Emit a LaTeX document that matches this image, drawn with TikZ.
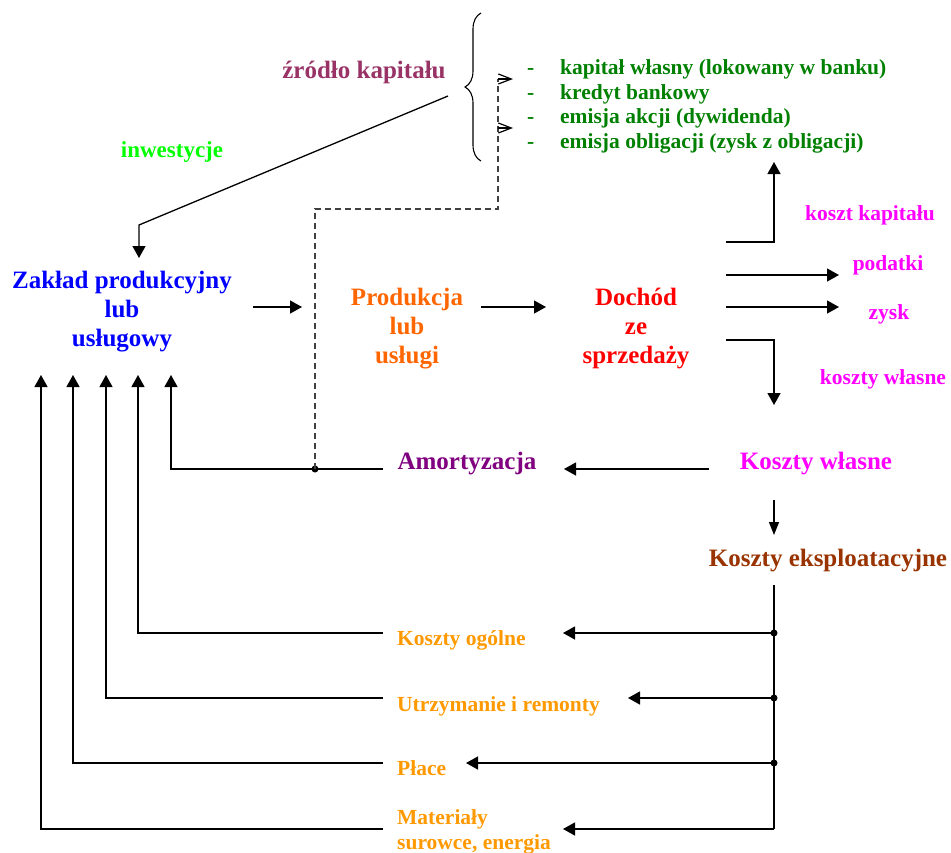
\documentclass[tikz,border=0pt]{standalone}
\usepackage{fontspec}
\setmainfont{Liberation Serif}
\usetikzlibrary{arrows.meta}
\usetikzlibrary{decorations.pathreplacing}
\definecolor{plum}{HTML}{993366}
\definecolor{darkgreen}{HTML}{008000}
\definecolor{brightgreen}{HTML}{00FF00}
\definecolor{prodorange}{HTML}{FF6600}
\definecolor{costorange}{HTML}{FF9900}
\definecolor{amortpurple}{HTML}{800080}
\definecolor{exploitbrown}{HTML}{993300}
\definecolor{costpink}{HTML}{FF00FF}
\definecolor{plantblue}{HTML}{0000FF}
\definecolor{incomered}{HTML}{FF0000}
\tikzstyle{bigtext}=[font=\fontsize{25}{29}\selectfont\bfseries, align=center, inner sep=0pt]
\tikzstyle{smalltext}=[font=\fontsize{21.5}{24.7}\selectfont\bfseries, inner sep=0pt]
\tikzstyle{flow}=[line width=1.3pt, -{Triangle[length=12pt,width=13pt]}]
\tikzstyle{plainline}=[line width=1.3pt]
\tikzstyle{funding}=[line width=1.2pt, gray!50!black, dash pattern=on 6pt off 4pt]
\tikzstyle{openflow}=[line width=1.2pt, -{Straight Barb[length=13pt,width=10pt]}]
\tikzstyle{joint}=[circle, fill, inner sep=0pt, minimum size=7pt]

\begin{document}
\begin{tikzpicture}[x=1pt, y=-1pt]
  \useasboundingbox (0,0) rectangle (951,852);
  % text blocks
  \node[bigtext, plum] (zrodlo) at (364,72) {źródło kapitału};
  \node[smalltext, darkgreen, align=left, anchor=west] (zrodla) at (527,106.5)
    {\makebox[33pt][l]{-}kapitał własny (lokowany w banku)\\
     \makebox[33pt][l]{-}kredyt bankowy\\
     \makebox[33pt][l]{-}emisja akcji (dywidenda)\\
     \makebox[33pt][l]{-}emisja obligacji (zysk z obligacji)};
  \node[smalltext, brightgreen, font=\fontsize{23}{26}\selectfont\bfseries] (inwest) at (172,152) {inwestycje};
  \node[bigtext, plantblue] (zaklad) at (122,312) {Zakład produkcyjny\\lub\\usługowy};
  \node[bigtext, prodorange] (produkcja) at (407,329) {Produkcja\\lub\\usługi};
  \node[bigtext, incomered] (dochod) at (636,329) {Dochód\\ze\\sprzedaży};
  \node[smalltext, costpink] (kkap) at (870,215) {koszt kapitału};
  \node[smalltext, costpink] (podatki) at (888,265) {podatki};
  \node[smalltext, costpink] (zysk) at (889,314) {zysk};
  \node[smalltext, costpink] (kwl) at (883,379) {koszty własne};
  \node[bigtext, amortpurple] (amort) at (467,464) {Amortyzacja};
  \node[bigtext, costpink] (kwlasne) at (816,464) {Koszty własne};
  \node[bigtext, exploitbrown] (keksp) at (828,561) {Koszty eksploatacyjne};
  \node[smalltext, costorange, anchor=west] (kogolne) at (397,640) {Koszty ogólne};
  \node[smalltext, costorange, anchor=west] (utrzym) at (397,706) {Utrzymanie i remonty};
  \node[smalltext, costorange, anchor=west] (place) at (397,768) {Płace};
  \node[smalltext, costorange, anchor=west, align=left] (mater) at (397,832) {Materiały\\surowce, energia};

  % brace of the capital sources
  \draw[line width=1.1pt, decorate, decoration={brace, amplitude=16pt}] (481,161) -- (481,13);

  % investment into the plant
  \coordinate (capfrom) at (448,96);
  \coordinate (capbend) at (139,225);
  \coordinate (captip) at (139,258);
  \draw[flow] (capfrom) -- (capbend) -- (captip);

  % main flow
  \coordinate (zp1) at (253,307); \coordinate (zp2) at (302,307);
  \coordinate (pd1) at (481,307); \coordinate (pd2) at (546,307);
  \draw[flow] (zp1) -- (zp2);
  \draw[flow] (pd1) -- (pd2);

  % distribution of the income
  \coordinate (kkap1) at (726,242); \coordinate (kkap2) at (774,162);
  \coordinate (pod1) at (726,275); \coordinate (pod2) at (839,275);
  \coordinate (zys1) at (726,307); \coordinate (zys2) at (839,307);
  \coordinate (kwl1) at (726,340); \coordinate (kwl2) at (774,405);
  \draw[flow] (kkap1) -| (kkap2);
  \draw[flow] (pod1) -- (pod2);
  \draw[flow] (zys1) -- (zys2);
  \draw[flow] (kwl1) -| (kwl2);

  % own costs
  \coordinate (kwa1) at (709,469); \coordinate (kwa2) at (564,469);
  \draw[flow] (kwa1) -- (kwa2);
  \coordinate (kwe1) at (774,500); \coordinate (kwe2) at (774,535);
  \draw[line width=1.3pt, -{Triangle[length=13pt,width=10pt]}] (kwe1) -- (kwe2);

  % depreciation back to the plant
  \coordinate (am1) at (383,469); \coordinate (am2) at (171,375);
  \coordinate (amjoint) at (315,469);
  \draw[flow] (am1) -| (am2);
  \node[joint] (amdot) at (amjoint) {};
  \coordinate (fund1) at (315,209); \coordinate (fund2) at (498,209);
  \coordinate (fund3) at (498,79); \coordinate (fund4) at (513,79);
  \coordinate (fund5) at (498,128); \coordinate (fund6) at (513,128);
  \draw[funding] (amdot.center) -- (fund1) -- (fund2) -- (fund3);
  \draw[openflow] (fund3) -- (fund4);
  \draw[openflow] (fund5) -- (fund6);

  % operating costs
  \coordinate (ke1) at (774,585); \coordinate (ke2) at (774,829);
  \draw[plainline] (ke1) -- (ke2);
  \foreach \y/\tip/\x/\dot in {633/563/138/1, 698/628/106/1, 763/466/73/1, 829/563/41/0} {
    \draw[flow] (774,\y) -- (\tip,\y);
    \draw[flow] (383,\y) -| (\x,375);
    \ifnum\dot=1 \node[joint] at (774,\y) {}; \fi
  }
\end{tikzpicture}
\end{document}
